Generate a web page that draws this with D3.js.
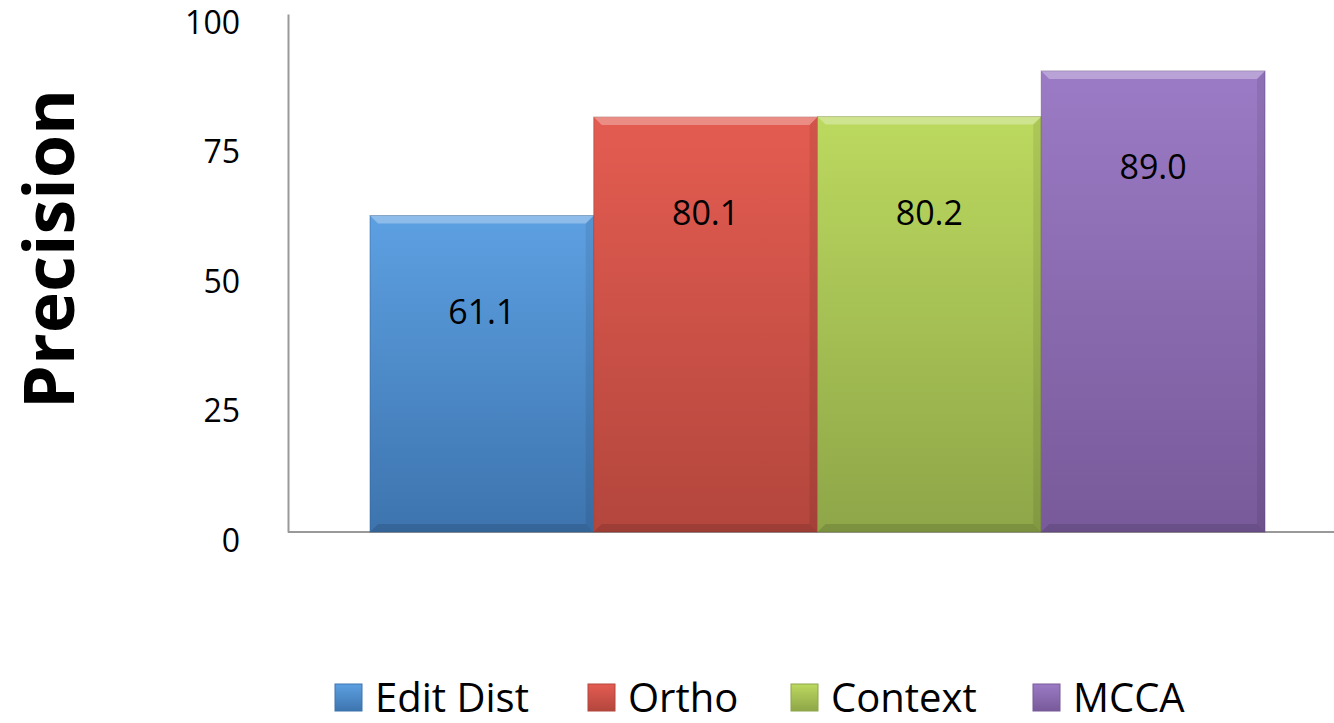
<!DOCTYPE html>
<meta charset="utf-8">
<style>
body { margin: 0; background: #fff; }
svg { display: block; }
.tick text { font-family: "Open Sans", sans-serif; font-size: 32px; fill: #000; }
.val { font-family: "Open Sans", sans-serif; font-size: 34px; fill: #000; }
.legend text { font-family: "Open Sans", sans-serif; font-size: 40px; fill: #000; }
</style>
<script src="https://d3js.org/d3.v7.min.js"></script>
<body>
<svg id="chart" width="1334" height="723"></svg>
<script>

var series = ["Edit Dist", "Ortho", "Context", "MCCA"];
var values = [61.1, 80.1, 80.2, 89.0];
var labels = ["61.1", "80.1", "80.2", "89.0"];
var yTicks = [0, 25, 50, 75, 100];

var colTop = ["#5da0e2", "#e45c51", "#bcd95f", "#9b7bc5"];
var colBot = ["#3d74ae", "#b3463d", "#8ea648", "#785a9a"];

var svg = d3.select("#chart");

var y = d3.scaleLinear().domain([0, 100]).range([532, 14]);
var x = d3.scaleBand().domain(series).range([370, 1265]).padding(0);

var defs = svg.append("defs");
series.forEach(function(s, i) {
  var g = defs.append("linearGradient")
      .attr("id", "grad" + i)
      .attr("x1", 0).attr("y1", 0).attr("x2", 0).attr("y2", 1);
  g.append("stop").attr("offset", "0%").attr("stop-color", colTop[i]);
  g.append("stop").attr("offset", "100%").attr("stop-color", colBot[i]);
});

// axes
var axis = svg.append("g")
    .attr("transform", "translate(288,0)")
    .call(d3.axisLeft(y).tickValues(yTicks).tickSize(0).tickPadding(48));
axis.select(".domain").attr("stroke", "#999").attr("stroke-width", 2);
axis.selectAll(".tick text").attr("dy", "0.6em");

svg.append("line")
    .attr("x1", 288).attr("x2", 1334)
    .attr("y1", y(0)).attr("y2", y(0))
    .attr("stroke", "#999").attr("stroke-width", 2);

// bars
var bars = svg.append("g").selectAll("g")
  .data(series)
  .enter().append("g");

bars.append("rect")
    .attr("x", function(d) { return x(d); })
    .attr("y", function(d, i) { return y(values[i]); })
    .attr("width", x.bandwidth())
    .attr("height", function(d, i) { return y(0) - y(values[i]); })
    .attr("fill", function(d, i) { return "url(#grad" + i + ")"; })
    .attr("stroke", function(d, i) { return d3.color(colBot[i]).darker(0.6); })
    .attr("stroke-opacity", 0.5)
    .attr("stroke-width", 1);

// bevel: light top edge, darker sides and bottom
var bv = 8;
bars.append("path")
    .attr("d", function(d, i) {
      var x0 = x(d), x1 = x0 + x.bandwidth(), t = y(values[i]);
      return "M" + x0 + "," + t + "L" + x1 + "," + t + "L" + (x1 - bv) + "," + (t + bv) + "L" + (x0 + bv) + "," + (t + bv) + "Z";
    })
    .attr("fill", "#fff").attr("fill-opacity", 0.3);
bars.append("path")
    .attr("d", function(d, i) {
      var x0 = x(d), x1 = x0 + x.bandwidth(), t = y(values[i]), b = y(0);
      return "M" + x1 + "," + t + "L" + x1 + "," + b + "L" + (x1 - bv) + "," + (b - bv) + "L" + (x1 - bv) + "," + (t + bv) + "Z";
    })
    .attr("fill", "#000").attr("fill-opacity", 0.08);
bars.append("path")
    .attr("d", function(d, i) {
      var x0 = x(d), x1 = x0 + x.bandwidth(), b = y(0);
      return "M" + x0 + "," + b + "L" + x1 + "," + b + "L" + (x1 - bv) + "," + (b - bv) + "L" + (x0 + bv) + "," + (b - bv) + "Z";
    })
    .attr("fill", "#000").attr("fill-opacity", 0.12);

bars.append("text")
    .attr("class", "val")
    .attr("x", function(d) { return x(d) + x.bandwidth() / 2; })
    .attr("y", function(d, i) { return y(values[i]) + 108; })
    .attr("text-anchor", "middle")
    .text(function(d, i) { return labels[i]; });

// y title
svg.append("text")
    .attr("transform", "translate(74,249) rotate(-90)")
    .attr("text-anchor", "middle")
    .style("font-family", "'Open Sans', sans-serif")
    .style("font-weight", "bold")
    .style("font-size", "70px")
    .text("Precision");

// legend
var legX = [335, 588, 791, 1033];
var leg = svg.append("g").attr("class", "legend")
  .selectAll("g").data(series).enter().append("g")
    .attr("transform", function(d, i) { return "translate(" + legX[i] + ",684)"; });
leg.append("rect")
    .attr("width", 27).attr("height", 27)
    .attr("fill", function(d, i) { return "url(#grad" + i + ")"; })
    .attr("stroke", function(d, i) { return colBot[i]; });
leg.append("text")
    .attr("x", 40).attr("y", 28)
    .text(function(d) { return d; });

</script>
</body>
